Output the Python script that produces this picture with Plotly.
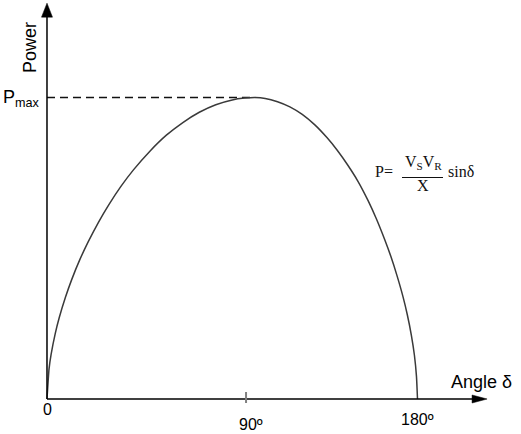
import plotly.graph_objects as go

# ---- data ----
curve_angle = [0, 1, 2, 4, 6, 9, 12, 16, 20, 25, 30, 36, 42, 50, 58, 66, 74, 82, 90, 96, 101.1,
               106, 112, 118, 124, 130, 136, 141, 146, 151, 156, 160, 164, 167, 170, 173,
               175, 177, 178.5, 179.5, 180]
curve_power = [0, 0.10, 0.148, 0.217, 0.271, 0.338, 0.396, 0.463, 0.521, 0.586, 0.644, 0.706,
               0.760, 0.822, 0.875, 0.917, 0.951, 0.976, 0.992, 0.998, 1.0,
               0.997, 0.986, 0.969, 0.944, 0.910, 0.867, 0.825, 0.777, 0.723, 0.658, 0.598,
               0.530, 0.474, 0.410, 0.338, 0.281, 0.212, 0.145, 0.075, 0]
p_max = 1.0
peak_angle = 101.1
tick_angles = [0, 96.7, 180]
tick_labels = ["0", "90º", "180º"]

W, H = 521, 434
X_RANGE = [-22.83, 230.28]
Y_RANGE = [-0.1161, 1.3234]
X_AXIS_END = 213.8
Y_AXIS_TOP = 1.313


def px(x):
    return x / W


def py(y):
    return 1 - y / H


fig = go.Figure()

# dashed Pmax guide
fig.add_trace(go.Scatter(x=[0, peak_angle], y=[p_max, p_max], mode="lines",
                         line=dict(color="#111111", width=1.3, dash="8px,5px"),
                         hoverinfo="skip", showlegend=False))
# power-angle curve
fig.add_trace(go.Scatter(x=curve_angle, y=curve_power, mode="lines",
                         line=dict(color="#3a3a3a", width=1.5, shape="spline", smoothing=0.5),
                         hoverinfo="skip", showlegend=False))

shapes = [
    # axes
    dict(type="line", xref="x", yref="y", x0=0, y0=0, x1=0, y1=Y_AXIS_TOP - 0.03,
         line=dict(color="black", width=1.5)),
    dict(type="line", xref="x", yref="y", x0=0, y0=0, x1=X_AXIS_END - 5, y1=0,
         line=dict(color="black", width=1.5)),
    # arrow heads
    dict(type="path", xref="x", yref="y", xsizemode="pixel", ysizemode="pixel",
         xanchor=0, yanchor=Y_AXIS_TOP, path="M0,0 L-5.5,-14 L5.5,-14 Z",
         fillcolor="black", line=dict(color="black", width=0.5)),
    dict(type="path", xref="x", yref="y", xsizemode="pixel", ysizemode="pixel",
         xanchor=X_AXIS_END, yanchor=0, path="M0,0 L-15,4 L-15,-4 Z",
         fillcolor="black", line=dict(color="black", width=0.5)),
    # 90 deg tick
    dict(type="line", xref="x", yref="y", xsizemode="pixel", ysizemode="pixel",
         xanchor=tick_angles[1], yanchor=0, x0=0, x1=0, y0=7, y1=-4,
         line=dict(color="#808080", width=2)),
    # fraction bar of formula
    dict(type="line", xref="paper", yref="paper", x0=px(402), x1=px(443),
         y0=py(177.5), y1=py(177.5), line=dict(color="#111111", width=1.2)),
]

sans = "Liberation Sans, Arial, sans-serif"
serif = "Liberation Serif, Times New Roman, serif"

ann = []


def add_text(text, x, y, size, family=sans, angle=0, xanchor="center", color="black"):
    ann.append(dict(text=text, x=px(x), y=py(y), xref="paper", yref="paper",
                    showarrow=False, xanchor=xanchor, yanchor="middle",
                    textangle=angle, font=dict(family=family, size=size, color=color)))


add_text("Power", 29.5, 47.5, 18, angle=-90)
add_text("P<sub>max</sub>", 1, 98, 18, xanchor="left")
add_text("Angle δ", 481.5, 381.5, 18)
tick_label_pos = [(47.5, 409.5), (251, 424), (417.5, 419)]
for lab, (tx, ty) in zip(tick_labels, tick_label_pos):
    add_text(lab, tx, ty, 16)

# formula
add_text("P=", 384, 171.5, 16, family=serif, color="#111111")
add_text("V<sub>S</sub>V<sub>R</sub>", 423, 162, 16, family=serif, color="#111111")
add_text("X", 422.5, 185, 16, family=serif, color="#111111")
add_text("sinδ", 461, 171, 16, family=serif, color="#111111")

fig.update_layout(
    width=W, height=H, margin=dict(l=0, r=0, t=0, b=0),
    paper_bgcolor="white", plot_bgcolor="white",
    xaxis=dict(range=X_RANGE, visible=False, fixedrange=True),
    yaxis=dict(range=Y_RANGE, visible=False, fixedrange=True),
    shapes=shapes, annotations=ann, showlegend=False,
)

fig.write_html("out.html")
